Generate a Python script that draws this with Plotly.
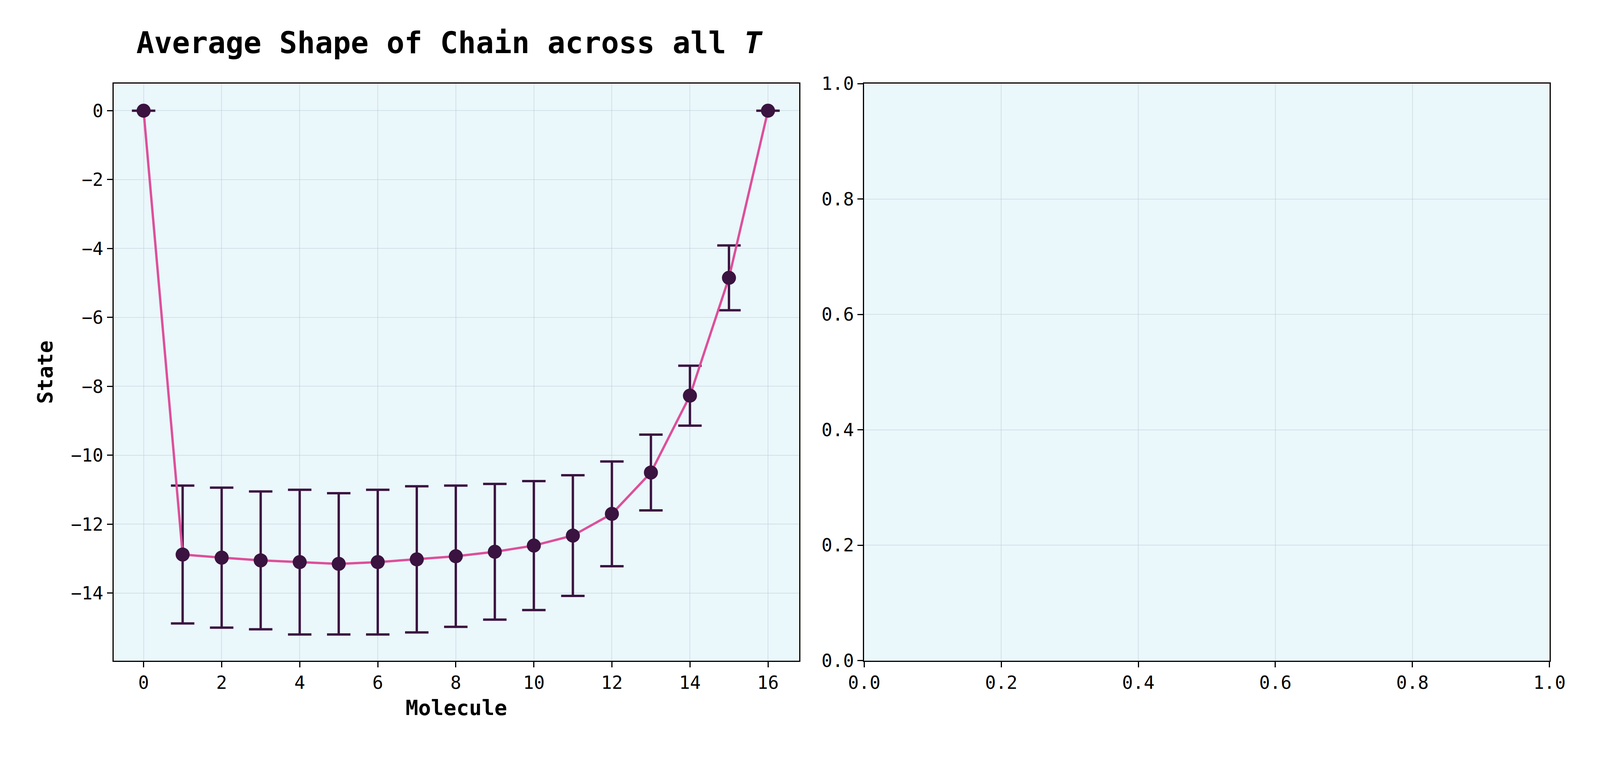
import plotly.graph_objects as go

molecule = list(range(17))
state_mean = [0, -12.88, -12.97, -13.05, -13.1, -13.15, -13.1, -13.02, -12.93, -12.8,
              -12.62, -12.33, -11.7, -10.5, -8.27, -4.85, 0]
state_err = [0, 2.0, 2.03, 2.0, 2.1, 2.05, 2.1, 2.12, 2.05, 1.97, 1.87, 1.75, 1.52,
             1.1, 0.87, 0.94, 0]
unit_ticks = [0, 0.2, 0.4, 0.6, 0.8, 1.0]
unit_labels = ["0.0", "0.2", "0.4", "0.6", "0.8", "1.0"]

FONT = "DejaVu Sans Mono"
W, H = 4800, 2000
fig = go.Figure()
fig.add_trace(go.Scatter(
    x=molecule, y=state_mean, mode="lines+markers",
    line=dict(color="#dd4f9a", width=6),
    marker=dict(color="#3a1340", size=36),
    error_y=dict(type="data", array=state_err, visible=True, color="#3a1340",
                 thickness=6, width=30),
    xaxis="x", yaxis="y", showlegend=False))
fig.add_trace(go.Scatter(x=[None], y=[None], xaxis="x2", yaxis="y2", showlegend=False))

axis_common = dict(showline=True, linecolor="black", linewidth=3, mirror=True,
                   ticks="outside", ticklen=14, tickwidth=3, tickcolor="black",
                   gridcolor="rgba(160,180,190,0.3)", gridwidth=2, zeroline=False,
                   tickfont=dict(family=FONT, size=46, color="black"))

x1 = (288 / W, 2388 / W)
x2 = (2587 / W, 4686 / W)
yd = (1 - 1757 / H, 1 - 190 / H)

fig.update_layout(
    autosize=True, paper_bgcolor="white", plot_bgcolor="#eaf7fb",
    margin=dict(l=0, r=0, t=0, b=0),
    font=dict(family=FONT, color="black"),
    xaxis=dict(domain=x1, range=[-0.77, 16.8], tickvals=list(range(0, 17, 2)),
               title=dict(text="<b>Molecule</b>", font=dict(size=54), standoff=20),
               **axis_common),
    yaxis=dict(domain=yd, range=[-15.96, 0.785], tickvals=[0, -2, -4, -6, -8, -10, -12, -14],
               ticktext=["0", "−2", "−4", "−6", "−8", "−10", "−12", "−14"],
               title=dict(text="<b>State</b>", font=dict(size=54), standoff=30),
               **axis_common),
    xaxis2=dict(domain=x2, range=[0, 1], tickvals=unit_ticks, ticktext=unit_labels,
                anchor="y2", **axis_common),
    yaxis2=dict(domain=yd, range=[0, 1], tickvals=unit_ticks, ticktext=unit_labels,
                anchor="x2", **axis_common),
    title=dict(text="<b>Average Shape of Chain across all <i>T</i></b>",
               x=(x1[0] + x1[1]) / 2, xanchor="center", y=1 - 105 / H, yanchor="middle",
               font=dict(size=76, family=FONT)),
)
fig.write_html("out.html", default_width="100vw", default_height="97vh",
               config={"responsive": True})
